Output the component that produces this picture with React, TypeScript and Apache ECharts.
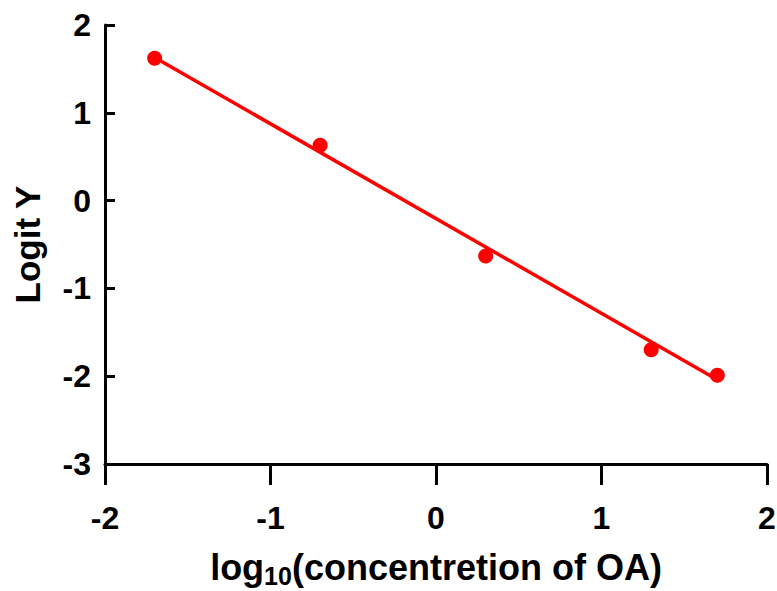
import React, { useEffect, useRef } from "react";
import * as echarts from "echarts";

const xValues = [-1.7, -0.7, 0.3, 1.3, 1.7];
const yValues = [1.62, 0.63, -0.63, -1.7, -1.99];
const fitX = [-1.7, 1.7];
const fitY = [1.63, -2.04];
const xTicks = [-2, -1, 0, 1, 2];
const yTicks = [-3, -2, -1, 0, 1, 2];

const FONT = "'Liberation Sans', Arial, sans-serif";
const RED = "#ff0000";

export default function App() {
  const ref = useRef<HTMLDivElement>(null);
  useEffect(() => {
    if (!ref.current) return;
    const chart = echarts.init(ref.current, null, { renderer: "svg" });
    chart.setOption({
      animation: false,
      backgroundColor: "#ffffff",
      grid: { left: 105, right: 10, top: 25, bottom: 127, containLabel: false, outerBoundsMode: "none" },
      xAxis: {
        type: "value",
        min: xTicks[0],
        max: xTicks[xTicks.length - 1],
        interval: 1,
        name: "{a|log}{s|10}{a|(concentretion of OA)}",
        nameLocation: "middle",
        nameGap: 83,
        nameTextStyle: {
          rich: {
            a: { fontFamily: FONT, fontWeight: "bold", fontSize: 36, color: "#000" },
            s: { fontFamily: FONT, fontWeight: "bold", fontSize: 25, color: "#000", verticalAlign: "bottom", padding: [16, 0, 0, 0] },
          },
        },
        axisLine: { show: true, onZero: false, lineStyle: { color: "#000", width: 3 } },
        axisTick: { show: true, inside: false, length: 21, lineStyle: { color: "#000", width: 3 } },
        axisLabel: { margin: 38, fontFamily: FONT, fontWeight: "bold", fontSize: 32, color: "#000" },
        splitLine: { show: false },
      },
      yAxis: {
        type: "value",
        min: yTicks[0],
        max: yTicks[yTicks.length - 1],
        interval: 1,
        name: "Logit Y",
        nameLocation: "middle",
        nameGap: 60,
        nameRotate: 90,
        nameTextStyle: { fontFamily: FONT, fontWeight: "bold", fontSize: 35, color: "#000" },
        axisLine: { show: true, onZero: false, lineStyle: { color: "#000", width: 3 } },
        axisTick: { show: true, inside: true, length: 10, lineStyle: { color: "#000", width: 3 } },
        axisLabel: {
          margin: 14,
          fontFamily: FONT,
          fontWeight: "bold",
          fontSize: 32,
          color: "#000",
          formatter: (v: number) => String(v),
        },
        splitLine: { show: false },
      },
      series: [
        {
          type: "line",
          data: fitX.map((x, i) => [x, fitY[i]]),
          symbol: "none",
          lineStyle: { color: RED, width: 3.5 },
          z: 2,
        },
        {
          type: "scatter",
          data: xValues.map((x, i) => [x, yValues[i]]),
          symbol: "circle",
          symbolSize: 15,
          itemStyle: { color: RED, opacity: 1 },
          z: 3,
        },
      ],
    });
    return () => chart.dispose();
  }, []);
  return <div ref={ref} style={{ width: 777, height: 591, position: "absolute", left: 0, top: 0 }} />;
}
